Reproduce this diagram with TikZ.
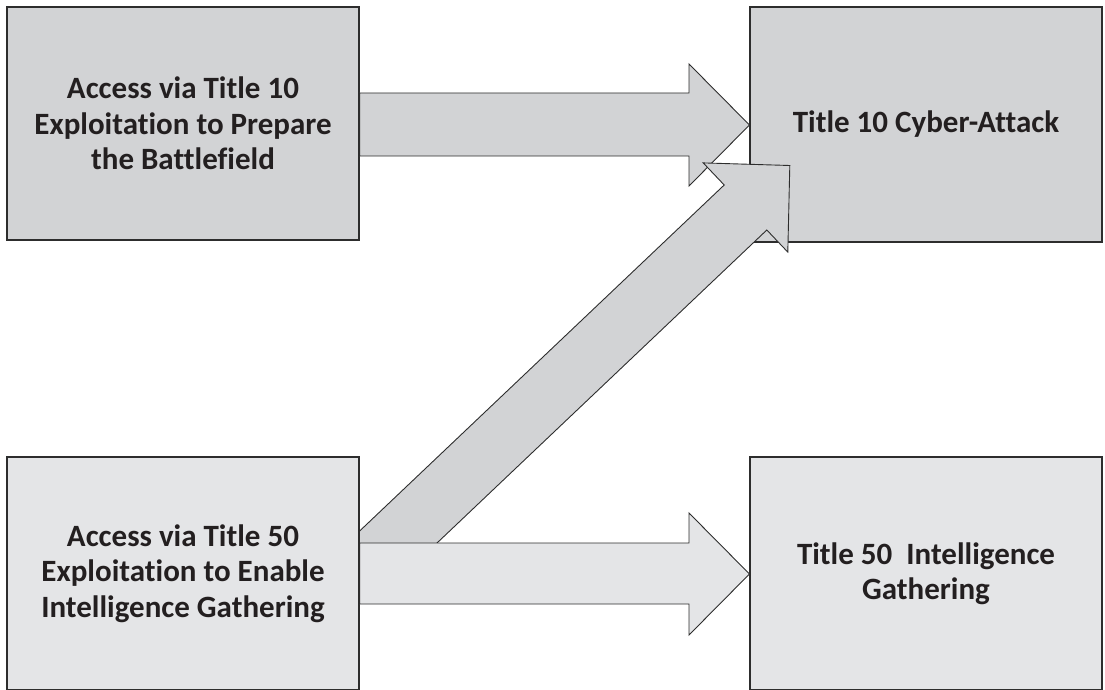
\documentclass[tikz,border=0pt]{standalone}
\usepackage{fontspec}
\setmainfont{Carlito}[Ligatures={NoCommon,NoRequired,NoContextual}]
\usetikzlibrary{calc}
\definecolor{darkfill}{RGB}{210,211,213}
\definecolor{lightfill}{RGB}{228,229,231}
\definecolor{edgegray}{RGB}{45,45,45}
\definecolor{ink}{RGB}{35,31,32}
\begin{document}
\begin{tikzpicture}[x=1pt,y=-1pt,
  box/.style={draw=edgegray, line width=1.1pt, minimum width=352pt,
    minimum height=233pt, inner sep=0pt, align=center, text=ink,
    font=\bfseries\fontsize{31}{35.5}\selectfont},
  blockarrow/.style={draw=edgegray, line width=0.9pt, line join=miter}]
\useasboundingbox (0,0) rectangle (1105,690);
\clip (0,0) rectangle (1105,690);

% upper row
\node[box, fill=darkfill] (prep) at (183,123.5)
  {Access via Title 10\\Exploitation to Prepare\\the Battlefield};
\node[box, fill=darkfill, minimum height=235pt] (attack) at (926,124.5)
  {Title 10 Cyber-Attack};

% horizontal block arrow: preparation -> attack
\filldraw[blockarrow, fill=darkfill]
  (prep.east |- 0,93) -- (689,93) -- (689,64) -- (attack.west |- 0,125)
  -- (689,186) -- (689,156) -- (prep.east |- 0,156) -- cycle;

% diagonal block arrow: intelligence access -> attack (tail hidden below)
\coordinate (dtip)  at (789.8,165.5);
\coordinate (dbarbA) at (703.2,162.9);
\coordinate (dbarbB) at (787.8,252.1);
\coordinate (dnotchA) at (724.2,185.0);
\coordinate (dnotchB) at (766.8,230.0);
\coordinate (dtailA) at (347.0,543.0);
\coordinate (dtailB) at (389.6,588.0);
\filldraw[blockarrow, fill=darkfill]
  (dtailA) -- (dnotchA) -- (dbarbA) -- (dtip) -- (dbarbB) -- (dnotchB)
  -- (dtailB) -- cycle;

% lower row
\node[box, fill=lightfill] (intel) at (183,573.5)
  {Access via Title 50\\Exploitation to Enable\\Intelligence Gathering};
\node[box, fill=lightfill] (gather) at (926,573.5)
  {Title 50\ \ Intelligence\\Gathering};

% horizontal block arrow: intelligence access -> gathering
\filldraw[blockarrow, fill=lightfill]
  (intel.east |- 0,543) -- (689,543) -- (689,513) -- (gather.west |- 0,574)
  -- (689,635) -- (689,604) -- (intel.east |- 0,604) -- cycle;
\end{tikzpicture}
\end{document}
